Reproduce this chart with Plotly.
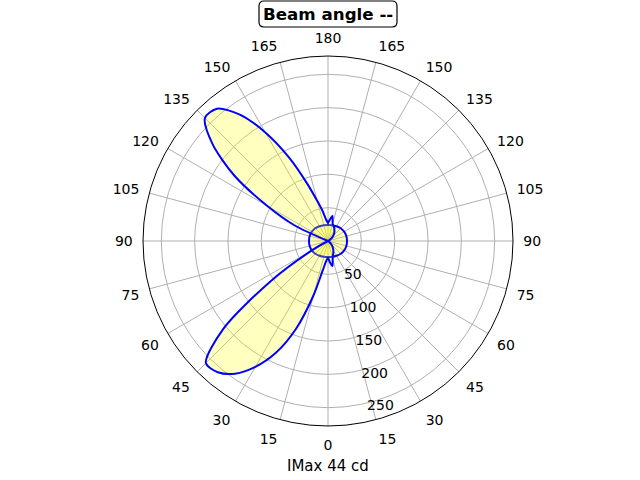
import plotly.graph_objects as go

# Gamma angles (degrees) of the measured half-planes
gamma_main = [0, 5, 10, 15, 20, 25, 30, 35, 40, 45, 50, 55, 60, 65, 70, 75, 80, 85, 90,
              95, 100, 105, 110, 115, 120, 125, 130, 135, 140, 145, 150, 155, 160, 165,
              170, 175, 180]
# C180 half-plane (drawn on the left side)
c180 = [25, 30, 44, 85, 140, 185, 218, 243, 257, 259, 205, 105, 26, 0, 0, 0, 0, 0, 0,
        0, 0, 0, 0, 55, 105, 172, 226, 261, 259, 232, 188, 138, 92, 62,
        45, 32, 27]
# C0 half-plane (drawn on the right side)
c0 = [25, 32, 38, 27, 22, 19, 16, 13, 10, 7, 4, 1, 0, 0, 0, 0, 0, 0, 0,
      0, 0, 0, 0, 0, 2, 5, 8, 11, 14, 17, 19, 22, 24, 27,
      38, 32, 27]

gamma_cross = [0, 15, 30, 45, 60, 75, 90, 105, 120, 135, 150, 165, 180]
c90 = [24, 24.5, 25.5, 27, 28, 28.5, 28.5, 28.5, 28, 27, 25.5, 24.5, 24]
c270 = [24, 24.5, 25.5, 27, 28, 28.5, 28.5, 28.5, 28, 27, 25.5, 24.5, 24]

angle_ticks = list(range(0, 360, 15))
angle_labels = [str(a if a <= 180 else 360 - a) for a in angle_ticks]
radial_ticks = [50, 100, 150, 200, 250]
radial_max = 277.5

title_text = "Beam angle --"
xlabel_text = "IMax 44 cd"

# Build closed paths: left side theta = gamma, right side theta = 360 - gamma
theta_main = gamma_main + [360 - g for g in reversed(gamma_main)]
r_main = c180 + list(reversed(c0))
theta_cross = gamma_cross + [360 - g for g in reversed(gamma_cross)]
r_cross = c270 + list(reversed(c90))

fill_col = "rgba(255,255,0,0.25)"
fig = go.Figure()
fig.add_trace(go.Scatterpolar(theta=theta_cross, r=r_cross, mode="lines",
                              fill="toself", fillcolor=fill_col,
                              line=dict(color="blue", width=2, shape="spline", smoothing=1),
                              showlegend=False, hoverinfo="skip"))
fig.add_trace(go.Scatterpolar(theta=theta_main, r=r_main, mode="lines",
                              fill="toself", fillcolor=fill_col,
                              line=dict(color="blue", width=2, shape="spline", smoothing=0.8),
                              showlegend=False, hoverinfo="skip"))

W, H = 640, 480


def px(x):
    return x / W


def py(y):
    return 1 - y / H


# rounded title box (pixel extents converted to paper coordinates)
x0, x1, y0, y1, rad = 259, 397, 1, 27, 5
box_path = (
    f"M {px(x0 + rad)},{py(y0)} L {px(x1 - rad)},{py(y0)} "
    f"Q {px(x1)},{py(y0)} {px(x1)},{py(y0 + rad)} L {px(x1)},{py(y1 - rad)} "
    f"Q {px(x1)},{py(y1)} {px(x1 - rad)},{py(y1)} L {px(x0 + rad)},{py(y1)} "
    f"Q {px(x0)},{py(y1)} {px(x0)},{py(y1 - rad)} L {px(x0)},{py(y0 + rad)} "
    f"Q {px(x0)},{py(y0)} {px(x0 + rad)},{py(y0)} Z"
)

font_family = "DejaVu Sans"
fig.update_layout(
    width=W, height=H,
    margin=dict(l=0, r=0, t=0, b=0),
    paper_bgcolor="white",
    font=dict(family=font_family, color="black"),
    polar=dict(
        domain=dict(x=[143 / W, 513 / W], y=[1 - 426 / H, 1 - 56 / H]),
        bgcolor="white",
        angularaxis=dict(
            rotation=270, direction="clockwise",
            tickmode="array", tickvals=angle_ticks, ticktext=angle_labels,
            showgrid=True, gridcolor="#b0b0b0", gridwidth=1,
            showline=True, linecolor="black", linewidth=1,
            ticks="outside", ticklen=7, tickcolor="rgba(0,0,0,0)",
            tickfont=dict(size=14, family=font_family, color="black"),
        ),
        radialaxis=dict(
            range=[0, radial_max], tickmode="array", tickvals=radial_ticks,
            ticktext=[str(v) for v in radial_ticks],
            showgrid=True, gridcolor="#b0b0b0", gridwidth=1,
            showline=False, ticks="", angle=-80, tickangle=-80,
            side="counterclockwise",
            tickfont=dict(size=14, family=font_family, color="black"),
        ),
    ),
    shapes=[dict(type="path", path=box_path, xref="paper", yref="paper",
                 line=dict(color="black", width=1.2), fillcolor="white", layer="above")],
    annotations=[
        dict(text="<b>" + title_text + "</b>", x=328 / W, y=1 - 14 / H,
             xref="paper", yref="paper", showarrow=False,
             font=dict(size=16.7, family=font_family, color="black"),
             xanchor="center", yanchor="middle"),
        dict(text=xlabel_text, x=328 / W, y=1 - 466 / H,
             xref="paper", yref="paper", showarrow=False,
             font=dict(size=15, family=font_family, color="black"),
             xanchor="center", yanchor="middle"),
    ],
)

fig.write_html("out.html", config={"displayModeBar": False},
               post_script="document.body.style.margin='0';")
